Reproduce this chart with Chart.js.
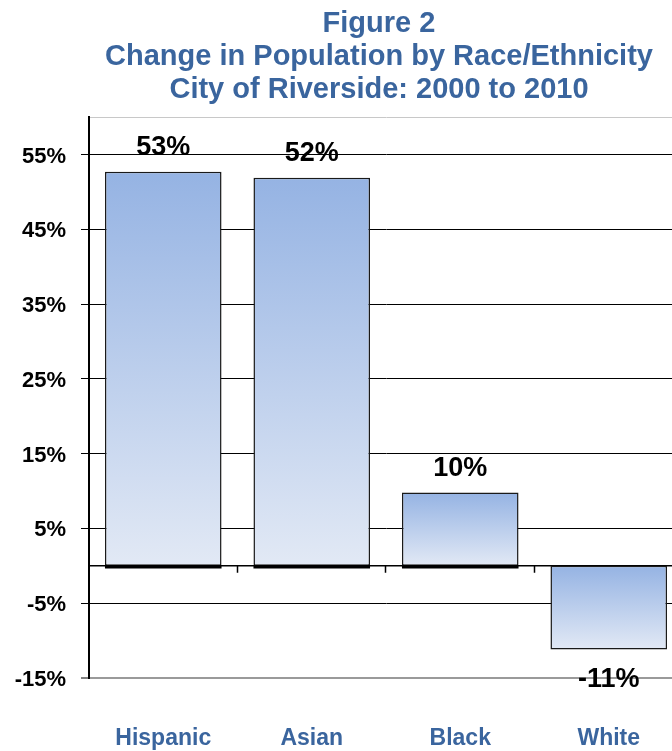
<!DOCTYPE html>
<html>
<head>
<meta charset="utf-8">
<script src="https://cdn.jsdelivr.net/npm/chart.js@4.4.0/dist/chart.umd.min.js"></script>
<style>
  body { margin: 0; overflow: hidden; background: #fff; }
  canvas { display: block; }
</style>
</head>
<body>
<canvas id="myChart" width="758" height="751"></canvas>
<script>
// données
var categories = ['Hispanic', 'Asian', 'Black', 'White'];
var changes = [52.7, 51.9, 9.8, -11.2];
var yTicks = [-15, -5, 5, 15, 25, 35, 45, 55, 60];
var titleLines = ['Figure 2', 'Change in Population by Race/Ethnicity', 'City of Riverside: 2000 to 2010'];

const blue = '#3A659E';
const font = "'Liberation Sans', Arial, sans-serif";

// dégradé bleu -> presque blanc sur chaque barre
function barGradient(context) {
    const chart = context.chart;
    if (!chart.chartArea) {
        return '#b9cbea';
    }
    const y = chart.scales.y;
    const v = context.raw;
    const top = y.getPixelForValue(Math.max(v, 0));
    const bottom = y.getPixelForValue(Math.min(v, 0));
    const g = chart.ctx.createLinearGradient(0, top, 0, bottom);
    g.addColorStop(0, '#95B3E3');
    g.addColorStop(1, '#E2E9F5');
    return g;
}

// ligne du zéro + petites graduations entre catégories
const zeroLine = {
    id: 'zeroLine',
    beforeDatasetsDraw(chart) {
        const c = chart.ctx;
        const area = chart.chartArea;
        const x = chart.scales.x;
        const y0 = chart.scales.y.getPixelForValue(0);
        c.save();
        c.strokeStyle = '#000';
        c.lineWidth = 1.5;
        c.beginPath();
        c.moveTo(area.left, y0);
        c.lineTo(area.right, y0);
        for (let i = 1; i < categories.length; i++) {
            const bx = Math.round((x.getPixelForValue(i - 1) + x.getPixelForValue(i)) / 2) - 0.5;
            c.moveTo(bx, y0);
            c.lineTo(bx, y0 + 7);
        }
        c.stroke();
        c.restore();
    }
};

// étiquettes de valeurs + trait épais en bas des barres positives
const valueLabels = {
    id: 'valueLabels',
    afterDatasetsDraw(chart) {
        const c = chart.ctx;
        const meta = chart.getDatasetMeta(0);
        const y0 = chart.scales.y.getPixelForValue(0);
        c.save();
        c.strokeStyle = '#000';
        c.lineWidth = 3.5;
        meta.data.forEach(function (bar, i) {
            if (changes[i] >= 0) {
                c.beginPath();
                c.moveTo(bar.x - bar.width / 2, y0 + 1);
                c.lineTo(bar.x + bar.width / 2, y0 + 1);
                c.stroke();
            }
        });
        c.font = 'bold 27px ' + font;
        c.fillStyle = '#000';
        c.textAlign = 'center';
        c.textBaseline = 'alphabetic';
        meta.data.forEach(function (bar, i) {
            const v = changes[i];
            const txt = Math.round(v) + '%';
            if (v >= 0) {
                c.fillText(txt, bar.x, bar.y - 17);
            } else {
                c.fillText(txt, bar.x, bar.y + 37);
            }
        });
        c.restore();
    }
};

const ctx = document.getElementById('myChart');
const chart = new Chart(ctx, {
    type: 'bar',
    data: {
        labels: categories,
        datasets: [{
            data: changes,
            backgroundColor: barGradient,
            borderColor: '#1a1a1a',
            borderSkipped: false,
            borderWidth: 1.5,
            barPercentage: 0.785,
            categoryPercentage: 1
        }]
    },
    options: {
        responsive: false,
        animation: false,
        layout: {
            padding: 0
        },
        plugins: {
            legend: { display: false },
            tooltip: { enabled: false },
            title: {
                display: true,
                text: titleLines,
                color: blue,
                font: { family: font, size: 29, weight: 'bold', lineHeight: 1.15 },
                padding: { top: 7, bottom: 10 }
            }
        },
        scales: {
            x: {
                grid: { display: false, drawTicks: false },
                border: { display: false },
                ticks: {
                    color: blue,
                    font: { family: font, size: 23, weight: 'bold' },
                    padding: 47,
                    maxRotation: 0
                },
                afterFit: function (scale) {
                    scale.height = 73;
                }
            },
            y: {
                min: -15,
                max: 60,
                afterBuildTicks: function (scale) {
                    scale.ticks = yTicks.map(v => ({ value: v }));
                },
                afterFit: function (scale) {
                    scale.width = 89;
                },
                border: { display: true, color: '#000', width: 2 },
                grid: {
                    color: function (c) {
                        if (c.tick.value === 60) return '#c8c8c8';
                        if (c.tick.value === -15) return '#9a9a9a';
                        return '#000';
                    },
                    lineWidth: function (c) {
                        return c.tick.value === -15 ? 2 : 1;
                    },
                    tickColor: function (c) {
                        return c.tick.value === 60 ? 'rgba(0,0,0,0)' : '#000';
                    },
                    tickLength: 8,
                    tickWidth: 1
                },
                ticks: {
                    color: '#000',
                    font: { family: font, size: 22, weight: 'bold' },
                    padding: 15,
                    labelOffset: 2,
                    callback: function (v) {
                        return v === 60 ? '' : v + '%';
                    }
                }
            },
            // axe vide à droite : la zone du graphique dépasse la fenêtre comme sur l'original
            yRight: {
                position: 'right',
                min: -15,
                max: 60,
                grid: { display: false, drawTicks: false },
                border: { display: false },
                ticks: { display: false },
                afterFit: function (scale) {
                    scale.width = 75;
                }
            }
        }
    },
    plugins: [zeroLine, valueLabels]
});
</script>
</body>
</html>
